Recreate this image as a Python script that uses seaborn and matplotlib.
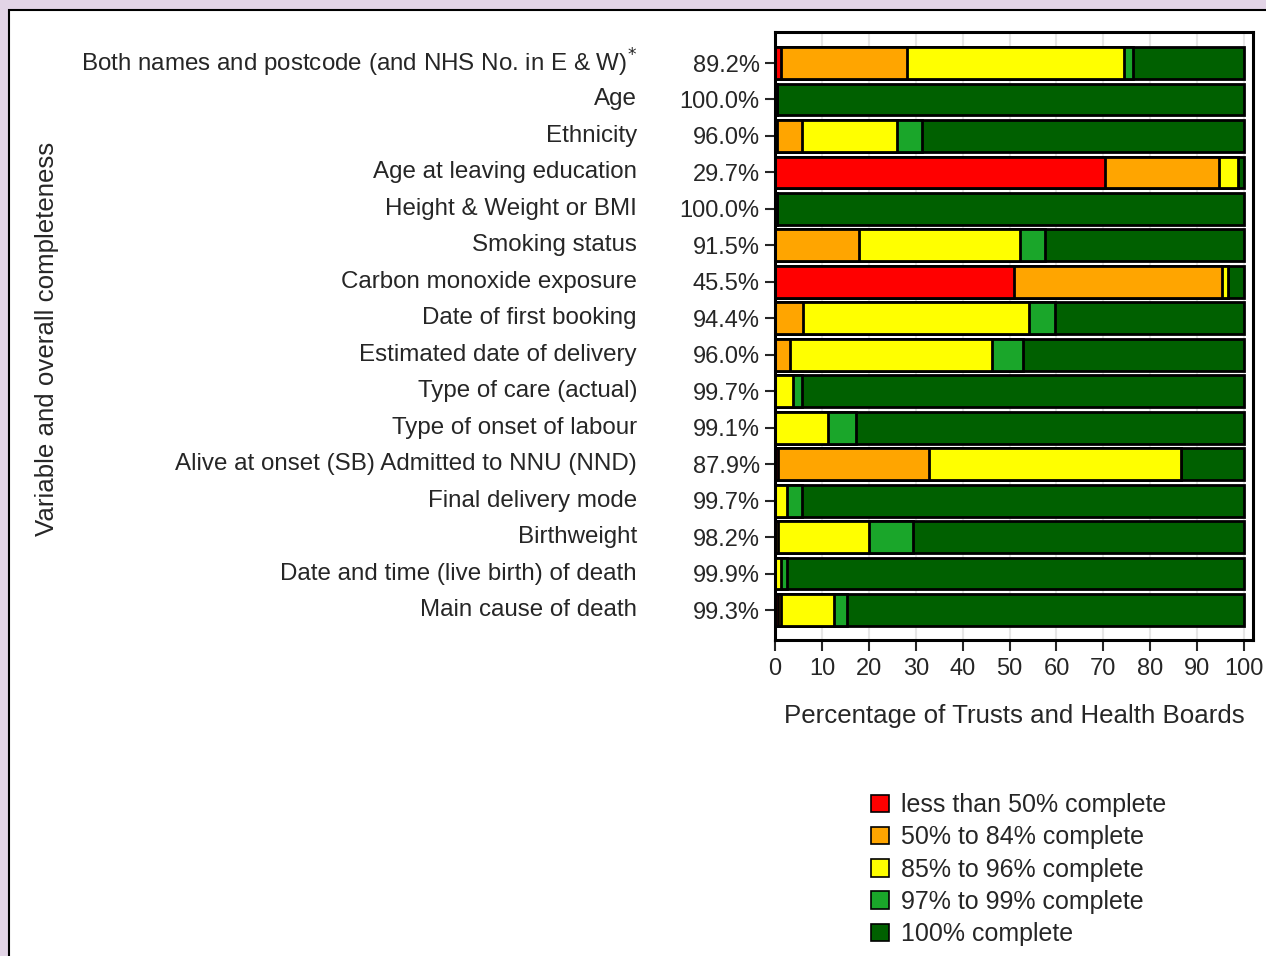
import numpy as np
import pandas as pd
import matplotlib
matplotlib.use('Agg')
import matplotlib.pyplot as plt
import matplotlib.transforms as mtransforms
from matplotlib.patches import Rectangle, Patch
import seaborn as sns

# Variables (top to bottom) and overall completeness
variables = [
    'Both names and postcode (and NHS No. in E & W)$^{*}$',
    'Age',
    'Ethnicity',
    'Age at leaving education',
    'Height & Weight or BMI',
    'Smoking status',
    'Carbon monoxide exposure',
    'Date of first booking',
    'Estimated date of delivery',
    'Type of care (actual)',
    'Type of onset of labour',
    'Alive at onset (SB) Admitted to NNU (NND)',
    'Final delivery mode',
    'Birthweight',
    'Date and time (live birth) of death',
    'Main cause of death',
]
overall = ['89.2%', '100.0%', '96.0%', '29.7%', '100.0%', '91.5%', '45.5%', '94.4%',
           '96.0%', '99.7%', '99.1%', '87.9%', '99.7%', '98.2%', '99.9%', '99.3%']

# % of trusts in each completeness band
less_50 = [1.2, 0, 0.5, 70.4, 0, 0, 51.0, 0, 0, 0, 0, 0.6, 0, 0, 0, 0.6]
p50_84 = [26.9, 0.5, 5.3, 24.2, 0.5, 17.9, 44.3, 5.9, 3.2, 0, 0, 32.2, 0, 0.6, 0, 0.6]
p85_96 = [46.3, 0, 20.2, 4.0, 0, 34.3, 1.3, 48.3, 43.0, 3.8, 11.3, 53.8, 2.5, 19.4, 1.2, 11.4]
p97_99 = [2.0, 0, 5.4, 0, 0, 5.4, 0, 5.4, 6.7, 2.0, 6.0, 0, 3.3, 9.5, 1.4, 2.8]

bands = ['less than 50% complete', '50% to 84% complete', '85% to 96% complete',
         '97% to 99% complete', '100% complete']
colours = ['#ff0000', '#ffa500', '#ffff00', '#1aa62a', '#006000']

df = pd.DataFrame({'variable': variables, 'less_50': less_50, 'p50_84': p50_84,
                   'p85_96': p85_96, 'p97_99': p97_99})
df['p100'] = 100 - df[['less_50', 'p50_84', 'p85_96', 'p97_99']].sum(axis=1)
cols = ['less_50', 'p50_84', 'p85_96', 'p97_99', 'p100']
cum = df[cols].cumsum(axis=1)

sns.set_style('white')
plt.rcParams['font.family'] = ['Liberation Sans', 'DejaVu Sans']

fig = plt.figure(figsize=(12.66, 9.56), dpi=100)
fig.patch.set_facecolor('#e2d4e6')
fig.add_artist(Rectangle((9 / 1266, -0.1), 1.2, 1 - 10 / 956 + 0.1, transform=fig.transFigure,
                         facecolor='white', edgecolor='black', lw=1.5, zorder=0))

ax = fig.add_axes([775 / 1266, 1 - 640 / 956, (1253 - 775) / 1266, (640 - 32) / 956])

# stacked bars: draw cumulative totals from largest down
for col, c in reversed(list(zip(cols, colours))):
    sns.barplot(x=cum[col], y=df['variable'], orient='h', color=c, edgecolor='black',
                linewidth=2, width=0.87, saturation=1, ax=ax)

ax.set_xlim(0, 101.9)
ax.set_ylim(len(variables) - 0.18, -0.85)
ax.set_xticks(range(0, 101, 10))
ax.xaxis.grid(True, color='#e6e6e6', lw=1.5)
ax.set_axisbelow(True)
for s in ax.spines.values():
    s.set_visible(True)
    s.set_linewidth(2.2)
    s.set_color('black')

ax.set_yticks(range(len(variables)))
ax.set_yticklabels(overall)
ax.tick_params(axis='y', length=7, width=1.5, pad=4, labelsize=17, left=True)
ax.tick_params(axis='x', length=8, width=1.5, pad=5, labelsize=17, bottom=True)
ax.set_ylabel('')
ax.set_xlabel('Percentage of Trusts and Health Boards', fontsize=18.6, labelpad=17)

trans = mtransforms.blended_transform_factory(fig.transFigure, ax.transData)
for i, name in enumerate(variables):
    ax.text(637 / 1266, i, name, transform=trans, ha='right', va='center', fontsize=17.4)

fig.text(47 / 1266, 1 - 339 / 956, 'Variable and overall completeness', rotation=90,
         ha='center', va='center', fontsize=18.6)

handles = [Patch(facecolor=c, edgecolor='black', lw=1.2) for c in colours]
fig.legend(handles, bands, loc='upper left', bbox_to_anchor=(861 / 1266, 1 - 783 / 956),
           frameon=False, fontsize=18, handlelength=0.7, handleheight=0.7,
           handletextpad=0.5, labelspacing=0.33, borderaxespad=0)

fig.savefig('out.png', dpi=100, facecolor=fig.get_facecolor())
